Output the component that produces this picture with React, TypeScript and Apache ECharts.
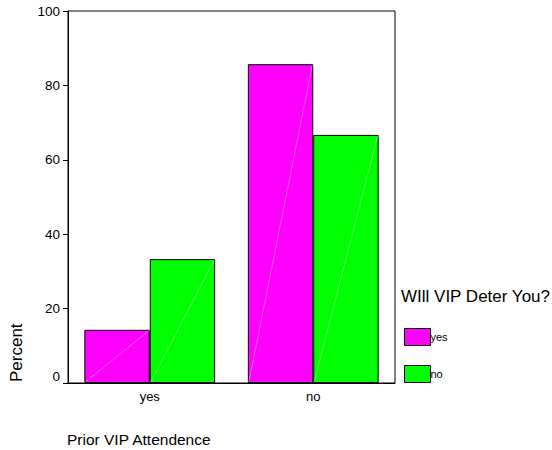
import React, { useEffect, useRef } from "react";
import * as echarts from "echarts";

const categories = ["yes", "no"];
const seriesNames = ["yes", "no"];
const yesValues = [14.3, 85.7];
const noValues = [33.3, 66.7];
const yTicks = { min: 0, max: 100, interval: 20 };
const colors = ["#FF00FF", "#00FF00"];

const FONT = "'Liberation Sans', Arial, sans-serif";

export default function App() {
  const ref = useRef<HTMLDivElement>(null);
  useEffect(() => {
    if (!ref.current) return;
    const chart = echarts.init(ref.current, undefined, { renderer: "svg" });
    const diag = (sIdx: number) => (params: any, api: any) => {
      const c = api.coord([api.value(0), api.value(1)]);
      const base = api.coord([api.value(0), 0]);
      const bandW = api.size([1, 0])[0];
      const barW = (bandW * 0.8) / 2;
      const x0 = sIdx === 0 ? c[0] - barW : c[0];
      return {
        type: "line",
        shape: { x1: x0 + 1, y1: base[1] - 1, x2: x0 + barW - 1, y2: c[1] + 1 },
        style: { stroke: "rgba(255,255,255,0.35)", lineWidth: 1 },
        silent: true,
      };
    };
    const allVals = [yesValues, noValues];
    chart.setOption({
      animation: false,
      textStyle: { fontFamily: FONT },
      title: {
        text: "WIll VIP Deter You?",
        left: 401,
        top: 288,
        padding: 0,
        textStyle: { fontSize: 17, fontWeight: "normal", color: "#000", fontFamily: FONT },
      },
      legend: {
        data: seriesNames,
        orient: "vertical",
        left: 404,
        top: 328,
        padding: 0,
        itemWidth: 26,
        itemHeight: 17,
        itemGap: 19,
        icon: "rect",
        itemStyle: { borderWidth: 1, borderColor: "#000" },
        textStyle: { fontSize: 11, color: "#000", fontFamily: FONT, padding: [0, 0, 0, -5] },
      },
      grid: {
        left: 68,
        right: 157,
        top: 11,
        bottom: 67,
        show: true,
        borderColor: "#000",
        borderWidth: 1,
        backgroundColor: "transparent",
      },
      xAxis: {
        type: "category",
        data: categories,
        axisLine: { lineStyle: { color: "#000", width: 1 } },
        axisTick: { alignWithLabel: true, length: 4, lineStyle: { color: "#000" } },
        axisLabel: { fontSize: 13, color: "#000", margin: 7, fontFamily: FONT },
      },
      yAxis: {
        type: "value",
        min: yTicks.min,
        max: yTicks.max,
        interval: yTicks.interval,
        splitLine: { show: false },
        axisLine: { show: true, lineStyle: { color: "#000", width: 1 } },
        axisTick: { show: true, length: 5, lineStyle: { color: "#000" } },
        axisLabel: {
          fontSize: 13.5,
          color: "#000",
          margin: 8,
          fontFamily: FONT,
          verticalAlignMinLabel: "bottom",
          verticalAlignMaxLabel: "middle",
        },
      },
      graphic: [
        {
          type: "text",
          x: 16,
          y: 382,
          rotation: Math.PI / 2,
          style: { text: "Percent", fontSize: 17, fill: "#000", fontFamily: FONT, align: "left", verticalAlign: "middle" },
        },
        {
          type: "text",
          x: 67,
          y: 439,
          style: { text: "Prior VIP Attendence", fontSize: 15.5, fill: "#000", fontFamily: FONT, align: "left", verticalAlign: "middle" },
        },
      ],
      series: [
        ...seriesNames.map((name, i) => ({
          name,
          type: "bar",
          data: allVals[i],
          barGap: "0%",
          barCategoryGap: "20%",
          itemStyle: { color: colors[i], borderColor: "#000", borderWidth: 1 },
        })),
        ...seriesNames.map((_, i) => ({
          type: "custom",
          renderItem: diag(i),
          data: allVals[i].map((v, k) => [k, v]),
          z: 5,
          silent: true,
        })),
      ],
    });
    return () => chart.dispose();
  }, []);
  return <div ref={ref} style={{ position: "absolute", left: 0, top: 0, width: 552, height: 450 }} />;
}
